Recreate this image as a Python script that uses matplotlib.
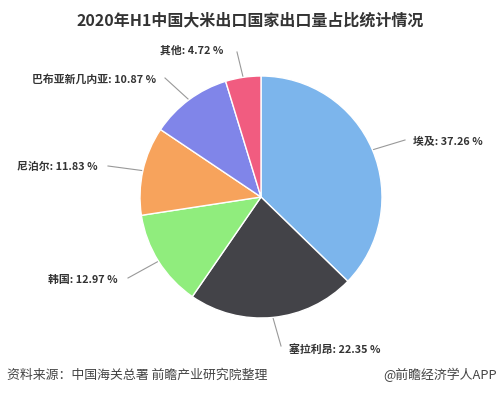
import numpy as np
import matplotlib
matplotlib.use('Agg')
import matplotlib.pyplot as plt

plt.rcParams['font.family'] = ['Noto Sans CJK SC', 'DejaVu Sans']

# data
countries = ['埃及', '塞拉利昂', '韩国', '尼泊尔', '巴布亚新几内亚', '其他']
shares = [37.26, 22.35, 12.97, 11.83, 10.87, 4.72]
colors = ['#7cb5ec', '#434348', '#90ed7d', '#f7a35c', '#8085e9', '#f15c80']

W, H = 500, 397
cx, cy, r = 261, H - 197, 121

# label layout (pixel coords, y from top): text x, text y, align, line end x, line end y
label_pos = [
    (413, 142, 'left', 405, 140),
    (289, 350, 'left', 281, 346),
    (118, 280, 'right', 128, 278),
    (98, 167, 'right', 108, 166),
    (156, 79, 'right', 165, 78),
    (223, 51, 'right', 237, 52),
]

fig = plt.figure(figsize=(W / 100, H / 100), dpi=100)
ax = fig.add_axes([0, 0, 1, 1])

ax.pie(shares, colors=colors, startangle=90, counterclock=False,
       center=(cx, cy), radius=r,
       wedgeprops=dict(edgecolor='white', linewidth=1))

ax.set_xlim(0, W)
ax.set_ylim(0, H)
ax.set_aspect('equal')
ax.axis('off')

# connectors and labels
cum = np.cumsum([0] + shares) / sum(shares)
for i, (name, val) in enumerate(zip(countries, shares)):
    mid = (cum[i] + cum[i + 1]) / 2
    ang = np.deg2rad(90 - mid * 360)
    ex, ey = cx + r * np.cos(ang), cy + r * np.sin(ang)
    tx, ty, ha, lx, ly = label_pos[i]
    ax.plot([ex, lx], [ey, H - ly], color='#999999', lw=0.8, zorder=0)
    ax.text(tx, H - ty, f'{name}: {val:.2f} %', ha=ha, va='center',
            fontsize=7.8, fontweight='bold', color='#333333')

ax.text(250, H - 20, '2020年H1中国大米出口国家出口量占比统计情况', ha='center',
        va='center', fontsize=11.5, fontweight='bold', color='#333333')
ax.text(7, H - 375, '资料来源：中国海关总署 前瞻产业研究院整理', ha='left',
        va='center', fontsize=9.3, color='#444444')
ax.text(497, H - 375, '@前瞻经济学人APP', ha='right', va='center',
        fontsize=9.3, color='#444444')

fig.savefig('out.png', dpi=100, facecolor='white')
